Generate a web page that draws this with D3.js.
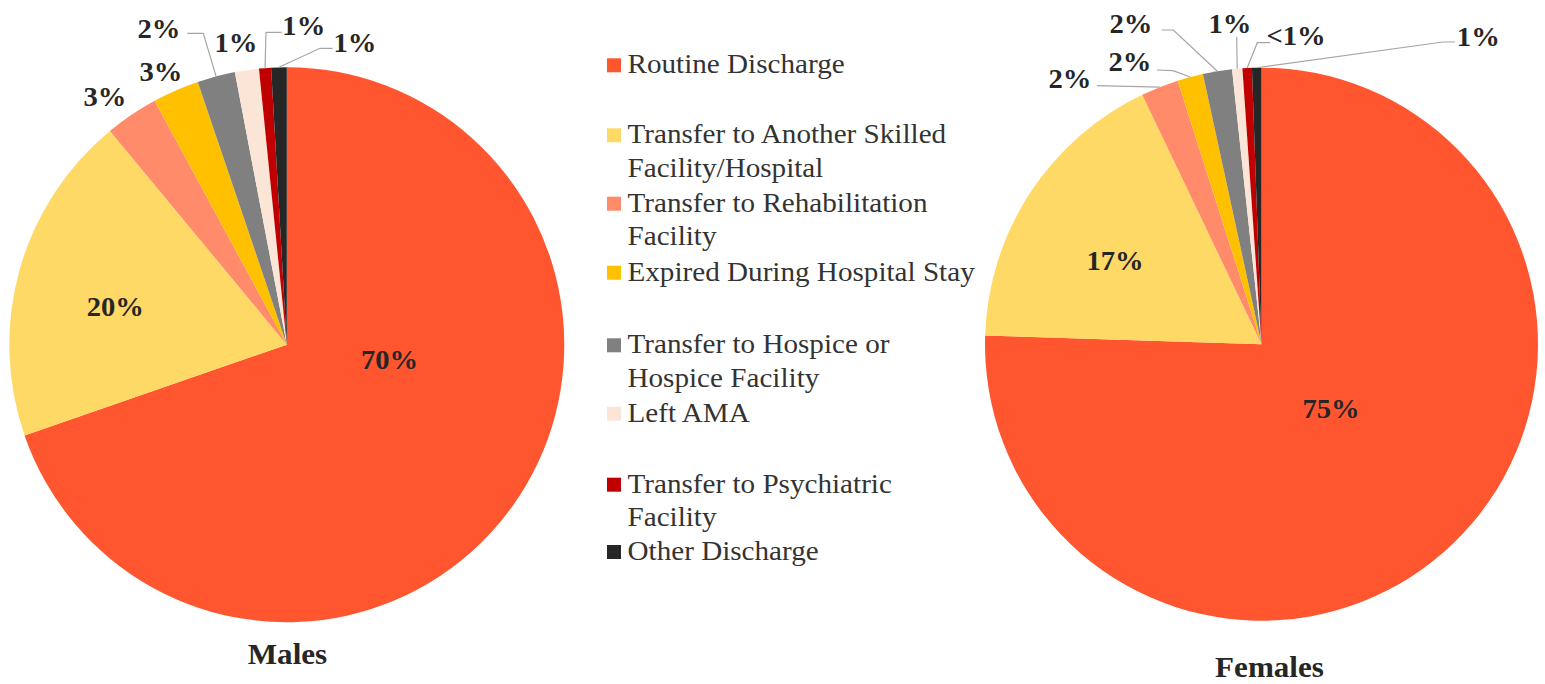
<!DOCTYPE html>
<html><head><meta charset="utf-8">
<script src="https://cdn.jsdelivr.net/npm/d3@7"></script>
<style>
html,body{margin:0;padding:0;background:#fff;}
svg{display:block;}
svg text{font-family:"Times New Roman",Times,"Liberation Serif",Tinos,serif;}
</style></head>
<body><svg id="chart" width="1545" height="684"></svg>
<script>
// ---- data ----
const categories = [
  "Routine Discharge",
  "Transfer to Another Skilled Facility/Hospital",
  "Transfer to Rehabilitation Facility",
  "Expired During Hospital Stay",
  "Transfer to Hospice or Hospice Facility",
  "Left AMA",
  "Transfer to Psychiatric Facility",
  "Other Discharge"
];
const legendLines = [
  ["Routine Discharge"],
  ["Transfer to Another Skilled", "Facility/Hospital"],
  ["Transfer to Rehabilitation", "Facility"],
  ["Expired During Hospital Stay"],
  ["Transfer to Hospice or", "Hospice Facility"],
  ["Left AMA"],
  ["Transfer to Psychiatric", "Facility"],
  ["Other Discharge"]
];
const maleValues   = [69.7, 19.3, 3.1, 2.7, 2.2, 1.4, 0.7, 0.9];
const femaleValues = [75.5, 17.4, 2.2, 1.5, 1.7, 0.6, 0.55, 0.55];
const maleLabels   = ["70%", "20%", "3%", "3%", "2%", "1%", "1%", "1%"];
const femaleLabels = ["75%", "17%", "2%", "2%", "2%", "1%", "<1%", "1%"];
const pieTitles = ["Males", "Females"];

// ---- styles / layout ----
const colors = ["#FF5630", "#FFD966", "#FF8B6B", "#FFC000", "#808080", "#FBE5D6", "#C00000", "#262626"];
const pies = [
  { cx: 286.8, cy: 344.7, r: 277.5, values: maleValues, labels: maleLabels, title: pieTitles[0], titleX: 287.5, titleY: 664,
    layout: [
      {x: 102.7, y: 24.3}, {x: -171.5, y: -28.7},
      {x: -181.8, y: -238.7}, {x: -125.8, y: -263.7},
      {x: -127.8, y: -306.7, lead: [[-99.5, -311.4], [-83.5, -311.4]]},
      {x: -50.8, y: -292.7},
      {x: 17, y: -309.7, lead: [[-5.1, -312.4], [-20.8, -312.4]]},
      {x: 68.2, y: -292.7, lead: [[45.9, -296.4], [33.2, -296.4]]}
    ]},
  { cx: 1261.5, cy: 344.2, r: 276.5, values: femaleValues, labels: femaleLabels, title: pieTitles[1], titleX: 1269.5, titleY: 677,
    layout: [
      {x: 69.5, y: 73.8}, {x: -146.5, y: -74.2},
      {x: -191.5, y: -256.2, lead: [[-164.5, -258.5]]},
      {x: -131.5, y: -273.2, lead: [[-104.5, -274.2], [-88.5, -273.5]]},
      {x: -130.5, y: -311.2, lead: [[-99.8, -314.2], [-88.2, -314.2]]},
      {x: -31.5, y: -311.2, lead: [[-24.8, -307.5]]},
      {x: 34.5, y: -299.2, lead: [[8.5, -301.5], [-4.2, -301.5]]},
      {x: 216.8, y: -298.2, lead: [[193.5, -302.2], [181.5, -302.2]]}
    ]}
];
const legendX = 607, legendTextX = 627.5, legendMarker = 14;
const legendBaselines = [73.3, 143.3, 211.7, 280.7, 353.3, 421.7, 492.7, 560];
const legendLineGap = 33.5;
const sx = 1.06;

const svg = d3.select("#chart");
const color = d3.scaleOrdinal().domain(categories).range(colors);
const pieGen = d3.pie().sort(null).value(d => d.v);

pies.forEach(p => {
  const data = categories.map((c, i) => ({c, v: p.values[i], label: p.labels[i], lay: p.layout[i]}));
  const arcs = pieGen(data);
  const arc = d3.arc().innerRadius(0).outerRadius(p.r);
  const g = svg.append("g").attr("transform", `translate(${p.cx},${p.cy})`);
  g.selectAll("path.slice").data(arcs).join("path")
    .attr("class", "slice")
    .attr("d", arc)
    .attr("fill", d => color(d.data.c));

  g.selectAll("polyline").data(arcs.filter(d => d.data.lay.lead)).join("polyline")
    .attr("points", d => {
      const a = (d.startAngle + d.endAngle) / 2;
      const end = [p.r * Math.sin(a), -p.r * Math.cos(a)];
      return d.data.lay.lead.concat([end]).map(q => q.join(",")).join(" ");
    })
    .attr("fill", "none").attr("stroke", "#A6A6A6").attr("stroke-width", 1.2);

  g.selectAll("text.lbl").data(arcs).join("text")
    .attr("class", "lbl")
    .attr("transform", d => `translate(${d.data.lay.x},${d.data.lay.y}) scale(${sx},1)`)
    .attr("text-anchor", "middle")
    .attr("font-size", 27)
    .attr("font-weight", "bold")
    .attr("fill", "#262626")
    .text(d => d.data.label);

  svg.append("text")
    .attr("transform", `translate(${p.titleX},${p.titleY}) scale(1.02,1)`)
    .attr("text-anchor", "middle")
    .attr("font-size", 30.5)
    .attr("font-weight", "bold")
    .attr("fill", "#262626")
    .text(p.title);
});

const lg = svg.append("g");
categories.forEach((c, i) => {
  const y = legendBaselines[i];
  lg.append("rect").attr("x", legendX).attr("y", y - 1 - legendMarker)
    .attr("width", legendMarker).attr("height", legendMarker).attr("fill", color(c));
  legendLines[i].forEach((t, j) => {
    lg.append("text")
      .attr("transform", `translate(${legendTextX},${y + j * legendLineGap}) scale(${sx},1)`)
      .attr("font-size", 27.5)
      .attr("fill", "#333333")
      .text(t);
  });
});
</script>
</body></html>
